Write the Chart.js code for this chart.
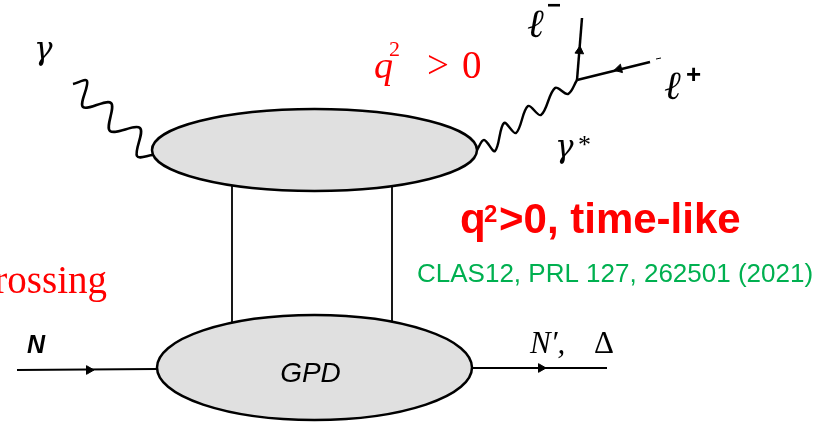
<!DOCTYPE html>
<html>
<head>
<meta charset="utf-8">
<script src="https://cdn.jsdelivr.net/npm/chart.js@4"></script>
<style>
    body { margin: 0; background: #ffffff; }
    #wrap { width: 823px; height: 422px; }
</style>
</head>
<body>
<div id="wrap"><canvas id="chart" width="823" height="422"></canvas></div>
<script>
// diagram coordinates (x to the right, y downwards)
var blobX = [314.5, 314.5];
var blobY = [150, 367.5];
var blobRx = [162.5, 157.5];
var blobRy = [41, 52.5];
var blobText = ['', 'GPD'];

var nucleonIn = [[17, 370], [157, 369]];
var nucleonOut = [[472, 368], [607, 368]];
var leftRung = [[232, 185], [232, 323]];
var rightRung = [[392, 186], [392, 322]];
var leptonMinus = [[577, 80], [582, 18]];
var leptonPlus = [[577, 80], [650, 62]];
var strayDash = [[656, 59], [661, 58]];

// real photon, wiggle corners
var photonIn = [[73, 84], [87, 81], [83, 107], [111, 103], [110, 131], [140, 128],
    [137, 156], [153, 155]];
// virtual photon
var photonOut = [[477, 150], [484, 140], [495, 151], [504, 123], [516, 133], [528, 106],
    [541, 115], [555, 88], [568, 94], [577, 80]];

// arrow heads: x, y, direction (deg, 0 = up)
var arrowX = [89, 541, 579.5, 619];
var arrowY = [370, 368, 51, 69];
var arrowDir = [90, 90, 5, 256];

function pts(list) {
    return list.map(p => ({ x: p[0], y: p[1] }));
}

function lineSet(list, extra) {
    return Object.assign({
        data: pts(list),
        showLine: true,
        borderColor: '#000000',
        borderWidth: 2,
        pointRadius: 0,
        fill: false
    }, extra || {});
}

var blobsPlugin = {
    id: 'blobs',
    beforeDatasetsDraw(chart) {
        var ctx = chart.ctx;
        var xs = chart.scales.x, ys = chart.scales.y;
        ctx.save();
        blobX.forEach((cx, i) => {
            var px = xs.getPixelForValue(cx);
            var py = ys.getPixelForValue(blobY[i]);
            var rx = Math.abs(xs.getPixelForValue(cx + blobRx[i]) - px);
            var ry = Math.abs(ys.getPixelForValue(blobY[i] + blobRy[i]) - py);
            ctx.beginPath();
            ctx.ellipse(px, py, rx, ry, 0, 0, Math.PI * 2);
            ctx.fillStyle = '#e0e0e0';
            ctx.fill();
            ctx.lineWidth = 2.5;
            ctx.strokeStyle = '#000000';
            ctx.stroke();
            if (blobText[i]) {
                ctx.fillStyle = '#000000';
                ctx.font = 'italic 28px "Liberation Sans", Arial, sans-serif';
                ctx.textAlign = 'center';
                ctx.textBaseline = 'alphabetic';
                ctx.fillText(blobText[i], px - 4, py + 14);
            }
        });
        ctx.restore();
    }
};

// text labels: text, x, y (baseline), font, colour, align
var labels = [
    ['γ', 34, 59, 'italic 31px "DejaVu Serif", serif', '#000000', 'left'],
    ['q', 374, 78, 'italic 38px "Liberation Serif", serif', '#ff0000', 'left'],
    ['2', 389, 56, '22px "Liberation Serif", serif', '#ff0000', 'left'],
    ['>', 427, 78, '39px "Liberation Serif", serif', '#ff0000', 'left'],
    ['0', 462, 78, '39px "Liberation Serif", serif', '#ff0000', 'left'],
    ['ℓ', 527, 37, 'italic 40px "DejaVu Serif", serif', '#000000', 'left'],
    ['−', 547, 13, 'bold 24px "Liberation Sans", Arial, sans-serif', '#000000', 'left'],
    ['ℓ', 664, 99, 'italic 40px "DejaVu Serif", serif', '#000000', 'left'],
    ['+', 686, 83, 'bold 26px "Liberation Sans", Arial, sans-serif', '#000000', 'left'],
    ['γ', 555, 157, 'italic 31px "DejaVu Serif", serif', '#000000', 'left'],
    ['*', 578, 153, '26px "Liberation Serif", serif', '#000000', 'left'],
    ['q', 460, 233, 'bold 42px "Liberation Sans", Arial, sans-serif', '#ff0000', 'left'],
    ['2', 484, 222, 'bold 24px "Liberation Sans", Arial, sans-serif', '#ff0000', 'left'],
    ['>0, time-like', 499, 233, 'bold 42px "Liberation Sans", Arial, sans-serif', '#ff0000', 'left'],
    ['CLAS12, PRL 127, 262501 (2021)', 417, 282, '26px "Liberation Sans", Arial, sans-serif', '#00b050', 'left'],
    ['rossing', 107, 293, '39px "Liberation Serif", serif', '#ff0000', 'right'],
    ['N', 27, 353, 'bold italic 25px "Liberation Sans", Arial, sans-serif', '#000000', 'left'],
    ['N′,', 530, 353, 'italic 31px "Liberation Serif", serif', '#000000', 'left'],
    ['Δ', 594, 353, '31px "Liberation Serif", serif', '#000000', 'left']
];

var labelsPlugin = {
    id: 'labels',
    afterDatasetsDraw(chart) {
        var ctx = chart.ctx;
        var xs = chart.scales.x, ys = chart.scales.y;
        ctx.save();
        ctx.textBaseline = 'alphabetic';
        labels.forEach(l => {
            ctx.font = l[3];
            ctx.fillStyle = l[4];
            ctx.textAlign = l[5];
            ctx.fillText(l[0], xs.getPixelForValue(l[1]), ys.getPixelForValue(l[2]));
        });
        ctx.restore();
    }
};

var datasets = [
    lineSet(nucleonIn),
    lineSet(nucleonOut),
    lineSet(leftRung, { borderWidth: 1.8 }),
    lineSet(rightRung, { borderWidth: 1.8 }),
    lineSet(leptonMinus, { borderWidth: 2.5 }),
    lineSet(leptonPlus, { borderWidth: 2.5 }),
    lineSet(strayDash, { borderWidth: 1 }),
    lineSet(photonIn, { tension: 0.35, borderWidth: 2.6 }),
    lineSet(photonOut, { tension: 0.35, borderWidth: 2.4 }),
    {
        data: arrowX.map((x, i) => ({ x: x, y: arrowY[i] })),
        showLine: false,
        pointStyle: 'triangle',
        rotation: arrowDir,
        pointRadius: 5,
        backgroundColor: '#000000',
        borderColor: '#000000',
        borderWidth: 1
    }
];

new Chart(document.getElementById('chart'), {
    type: 'scatter',
    data: { datasets },
    options: {
        responsive: false,
        animation: false,
        devicePixelRatio: 1,
        layout: { padding: 0, autoPadding: false },
        plugins: {
            legend: { display: false },
            tooltip: { enabled: false }
        },
        scales: {
            x: { type: 'linear', min: 0, max: 823, display: false },
            y: { type: 'linear', min: 0, max: 422, reverse: true, display: false }
        }
    },
    plugins: [blobsPlugin, labelsPlugin]
});
</script>
</body>
</html>
